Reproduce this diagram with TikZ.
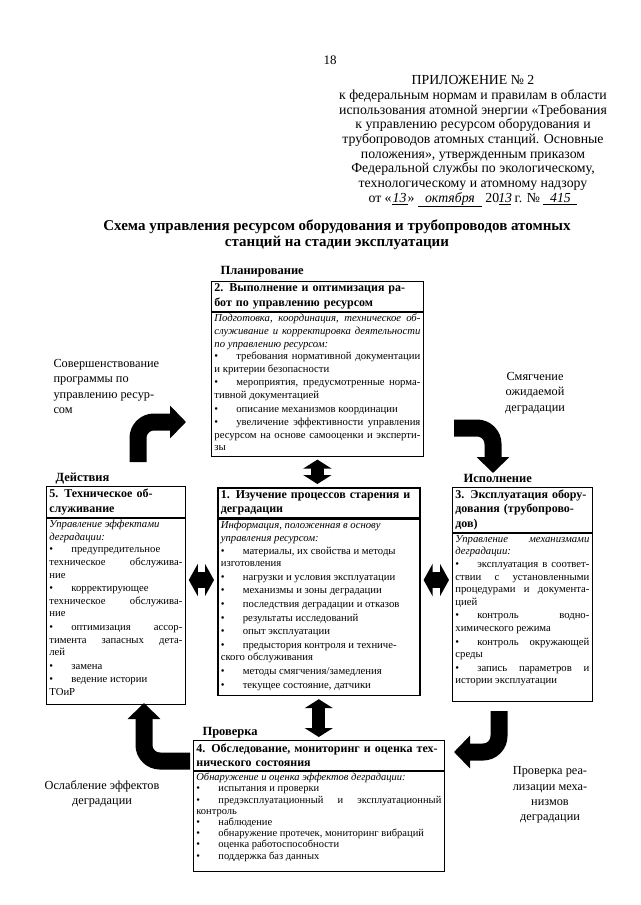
\documentclass[tikz,border=0pt]{standalone}
\usepackage{fontspec}
\setmainfont{Liberation Serif}
\usetikzlibrary{arrows.meta, positioning}

\newcommand{\bl}{\makebox[22pt][l]{•}}
\newcommand{\jl}[1]{\makebox[\linewidth][s]{#1}\\}

\tikzset{
  hdr/.style={draw, line width=0.8pt, anchor=north west, inner xsep=3pt, inner ysep=0pt,
    align=left, font=\fontsize{12}{14.2}\selectfont\bfseries},
  bodybox/.style={draw, line width=0.8pt, inner xsep=3pt, inner ysep=2pt,
    font=\fontsize{10.7}{12.6}\selectfont},
  stage/.style={anchor=base west, font=\fontsize{12.5}{14}\selectfont\bfseries},
  lbl/.style={font=\fontsize{12.3}{15.3}\selectfont},
  dbl/.style={line width=13pt, shorten <=3pt, shorten >=3pt,
    {Triangle[width=28pt,length=9pt]}-{Triangle[width=28pt,length=9pt]}},
  dblh/.style={line width=16pt, shorten <=3pt, shorten >=3pt,
    {Triangle[width=32pt,length=9pt]}-{Triangle[width=32pt,length=9pt]}},
  bentarrow/.style={line width=17pt, rounded corners=16pt, -{Triangle[width=32pt,length=16pt]}}
}

\begin{document}
\begin{tikzpicture}[x=1pt, y=-1pt]
  \useasboundingbox[fill=white] (0,0) rectangle (640,905);

  \node[anchor=base, font=\fontsize{13}{14}\selectfont] (pg) at (330,64) {18};
  \node[anchor=north, align=center, font=\fontsize{13.8}{14.7}\selectfont] (app) at (473,72)
    {ПРИЛОЖЕНИЕ № 2\\
     к федеральным нормам и правилам в области\\
     использования атомной энергии «Требования\\
     к управлению ресурсом оборудования и\\
     трубопроводов атомных станций. Основные\\
     положения», утвержденным приказом\\
     Федеральной службы по экологическому,\\
     технологическому и атомному надзору\\
     от «\underline{\makebox[16pt]{\itshape 13}}» \underline{\makebox[64pt]{\itshape октября}}
     20\underline{\makebox[12pt]{\itshape 13}} г. № \underline{\makebox[34pt]{\itshape 415}}};
  \node[anchor=north, align=center, font=\fontsize{15}{16}\selectfont\bfseries] (title) at (337,216)
    {Схема управления ресурсом оборудования и трубопроводов атомных\\
     станций на стадии эксплуатации};

  % 2
  \node[stage] (s2) at (217,274) {Планирование};
  \node[hdr, text width=206pt, minimum height=30pt] (h2) at (211,281)
    {\jl{2. Выполнение и оптимизация ра-}бот по управлению ресурсом};
  \node[bodybox, below=0pt of h2] (b2) {\parbox[t][140pt][t]{206pt}{%
    \jl{\itshape Подготовка, координация, техническое об-}
    \jl{\itshape служивание и корректировка деятельности}
    \textit{по управлению ресурсом:}\\
    \jl{\bl требования нормативной документации}
    и критерии безопасности\\[1pt]
    \jl{\bl мероприятия, предусмотренные норма-}
    тивной документацией\\[1pt]
    \bl описание механизмов координации\\[1pt]
    \jl{\bl увеличение эффективности управления}
    \jl{ресурсом на основе самооценки и эксперти-}
    зы}};

  % 1
  \node[hdr, line width=1.6pt, text width=196pt, minimum height=30pt] (h1) at (217,487)
    {\jl{1. Изучение процессов старения и}деградации};
  \node[bodybox, line width=1.6pt, below=0pt of h1] (b1) {\parbox[t][172pt][t]{196pt}{%
    \textit{Информация, положенная в основу}\\
    \textit{управления ресурсом:}\\
    \bl материалы, их свойства и методы\\
    изготовления\\[1pt]
    \bl нагрузки и условия эксплуатации\\[1pt]
    \bl механизмы и зоны деградации\\[1pt]
    \bl последствия деградации и отказов\\[1pt]
    \bl результаты исследований\\[1pt]
    \bl опыт эксплуатации\\[1pt]
    \bl предыстория контроля и техниче-\\
    ского обслуживания\\[1pt]
    \bl методы смягчения/замедления\\[1pt]
    \bl текущее состояние, датчики}};

  % 5
  \node[stage] (s5) at (52,481) {Действия};
  \node[hdr, text width=133pt, minimum height=31pt] (h5) at (46,486)
    {5. Техническое об-\\служивание};
  \node[bodybox, below=0pt of h5] (b5) {\parbox[t][182pt][t]{133pt}{%
    \textit{Управление эффектами}\\
    \textit{деградации:}\\
    \bl предупредительное\\
    \jl{техническое обслужива-}
    ние\\[1pt]
    \bl корректирующее\\
    \jl{техническое обслужива-}
    ние\\[1pt]
    \jl{\bl оптимизация ассор-}
    \jl{тимента запасных дета-}
    лей\\[1pt]
    \bl замена\\[1pt]
    \bl ведение истории\\
    ТОиР}};

  % 3
  \node[stage] (s3) at (460,482) {Исполнение};
  \node[hdr, text width=134pt, minimum height=45pt] (h3) at (452,487)
    {\jl{3. Эксплуатация обору-}\jl{дования (трубопрово-}дов)};
  \node[bodybox, below=0pt of h3] (b3) {\parbox[t][164pt][t]{134pt}{%
    \jl{\itshape Управление механизмами}
    \textit{деградации:}\\
    \jl{\bl эксплуатация в соответ-}
    \jl{ствии с установленными}
    \jl{процедурами и документа-}
    цией\\[1pt]
    \jl{\bl контроль водно-}
    химического режима\\[1pt]
    \jl{\bl контроль окружающей}
    среды\\[1pt]
    \jl{\bl запись параметров и}
    истории эксплуатации}};

  % 4
  \node[stage] (s4) at (199,735) {Проверка};
  \node[hdr, text width=245pt, minimum height=30pt] (h4) at (193,740)
    {\jl{4. Обследование, мониторинг и оценка тех-}нического состояния};
  \node[bodybox, below=0pt of h4, font=\fontsize{10.5}{11.2}\selectfont] (b4)
    {\parbox[t][96pt][t]{245pt}{%
    \textit{Обнаружение и оценка эффектов деградации:}\\
    \bl испытания и проверки\\
    \jl{\bl предэксплуатационный и эксплуатационный}
    контроль\\
    \bl наблюдение\\
    \bl обнаружение протечек, мониторинг вибраций\\
    \bl оценка работоспособности\\
    \bl поддержка баз данных}};

  \node[lbl, anchor=north west, align=left] (l1) at (50,356)
    {Совершенствование\\программы по\\управлению ресур-\\сом};
  \node[lbl, align=center] (l2) at (535,393) {Смягчение\\ожидаемой\\деградации};
  \node[lbl, align=center] (l3) at (102,794) {Ослабление эффектов\\деградации};
  \node[lbl, align=center] (l4) at (550,795) {Проверка реа-\\лизации меха-\\низмов\\деградации};

  \coordinate (mid) at (318,580);
  \draw[dbl] (b2.south) -- (b2.south |- h1.north);
  \draw[dbl] (b1.south) -- (b1.south |- h4.north);
  \draw[dblh] (b5.east |- mid) -- (b1.west |- mid);
  \draw[dblh] (b1.east |- mid) -- (b3.west |- mid);

  \coordinate (a1s) at (138,462);
  \coordinate (a1e) at (186,422);
  \coordinate (a2s) at (454,428);
  \coordinate (a2e) at (493,473);
  \coordinate (a3s) at (499,711);
  \coordinate (a3e) at (454,752);
  \coordinate (a4s) at (190,761);
  \coordinate (a4e) at (144,703);
  \draw[bentarrow] (a1s) |- (a1e);
  \draw[bentarrow] (a2s) -| (a2e);
  \draw[bentarrow] (a3s) |- (a3e);
  \draw[bentarrow] (a4s) -| (a4e);
\end{tikzpicture}
\end{document}
